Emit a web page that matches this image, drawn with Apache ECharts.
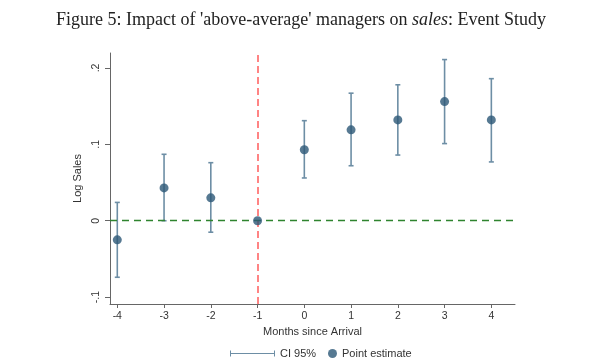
<!DOCTYPE html>
<html>
<head>
<meta charset="utf-8">
<script src="https://cdn.jsdelivr.net/npm/echarts@6/dist/echarts.min.js"></script>
<style>html,body{margin:0;padding:0;background:#fff}#c{width:602px;height:362px}</style>
</head>
<body>
<div id="c"></div>
<script>
var months = [-4, -3, -2, -1, 0, 1, 2, 3, 4];
var pointEstimate = [-0.025, 0.043, 0.030, 0, 0.093, 0.119, 0.132, 0.156, 0.132];
var ciLower = [-0.074, 0.000, -0.015, 0, 0.056, 0.072, 0.086, 0.101, 0.077];
var ciUpper = [0.024, 0.087, 0.076, 0, 0.131, 0.167, 0.178, 0.211, 0.186];
var xTicks = [-4, -3, -2, -1, 0, 1, 2, 3, 4];
var yTicks = [-0.1, 0, 0.1, 0.2];
var yTickLabels = ['-.1', '0', '.1', '.2'];

var ciData = months.map(function (m, i) { return [m, ciLower[i], ciUpper[i]]; });
var ptData = months.map(function (m, i) { return [m, pointEstimate[i]]; });

var chart = echarts.init(document.getElementById('c'));
chart.setOption({
  animation: false,
  backgroundColor: '#ffffff',
  title: {
    text: "Figure 5: Impact of 'above-average' managers on {i|sales}: Event Study",
    left: 'center', top: 6,
    textStyle: {
      fontFamily: 'Liberation Serif', fontSize: 18, fontWeight: 'normal', color: '#222',
      rich: { i: { fontFamily: 'Liberation Serif', fontSize: 18, fontStyle: 'italic', color: '#222' } }
    }
  },
  grid: { left: 110, right: 87, top: 53, bottom: 58 },
  xAxis: {
    type: 'value', min: -4.156, max: 4.506,
    name: 'Months since Arrival', nameLocation: 'middle', nameGap: 21,
    nameTextStyle: { fontFamily: 'Liberation Sans', fontSize: 11, color: '#333' },
    axisLine: { onZero: false, lineStyle: { color: '#666', width: 1 } },
    axisTick: { customValues: xTicks, length: 4, lineStyle: { color: '#666' } },
    axisLabel: { customValues: xTicks, fontFamily: 'Liberation Sans', fontSize: 10.5, color: '#333', margin: 7,
      formatter: function (v) { return String(v); } },
    splitLine: { show: false }
  },
  yAxis: {
    type: 'value', min: -0.109, max: 0.2196,
    name: 'Log Sales', nameLocation: 'middle', nameGap: 24, nameRotate: 90,
    nameTextStyle: { fontFamily: 'Liberation Sans', fontSize: 11, color: '#333' },
    axisLine: { show: true, onZero: false, lineStyle: { color: '#666', width: 1 } },
    axisTick: { show: true, customValues: yTicks, length: 5, lineStyle: { color: '#666' } },
    axisLabel: { customValues: yTicks, rotate: 90, fontFamily: 'Liberation Sans', fontSize: 10.5, color: '#333', margin: 8,
      formatter: function (v) {
        for (var k = 0; k < yTicks.length; k++) { if (Math.abs(v - yTicks[k]) < 1e-9) return yTickLabels[k]; }
        return '';
      } },
    splitLine: { show: false }
  },
  legend: [
    { data: [{ name: 'CI 95%', icon: 'path://M0,0h1v6h-1z M0,2.5h45v1h-45z M44,0h1v6h-1z' }],
      left: 225, top: 343, itemWidth: 45, itemHeight: 6, itemGap: 0,
      textStyle: { fontFamily: 'Liberation Sans', fontSize: 11, color: '#333' } },
    { data: [{ name: 'Point estimate', icon: 'circle' }],
      left: 323, top: 343, itemWidth: 9, itemHeight: 9, itemGap: 0,
      textStyle: { fontFamily: 'Liberation Sans', fontSize: 11, color: '#333' } }
  ],
  series: [
    {
      name: 'CI 95%', type: 'custom', data: ciData, color: '#6d8ea5',
      encode: { x: 0, y: [1, 2] },
      renderItem: function (params, api) {
        var x = api.value(0);
        var lo = api.coord([x, api.value(1)]);
        var hi = api.coord([x, api.value(2)]);
        var cap = 2.5;
        var style = { stroke: '#6d8ea5', lineWidth: 1.6, fill: null };
        if (Math.abs(hi[1] - lo[1]) < 0.5) return null;
        return {
          type: 'group',
          children: [
            { type: 'line', shape: { x1: lo[0], y1: lo[1], x2: hi[0], y2: hi[1] }, style: style },
            { type: 'line', shape: { x1: lo[0] - cap, y1: lo[1], x2: lo[0] + cap, y2: lo[1] }, style: style },
            { type: 'line', shape: { x1: hi[0] - cap, y1: hi[1], x2: hi[0] + cap, y2: hi[1] }, style: style }
          ]
        };
      },
      z: 3
    },
    {
      name: 'Point estimate', type: 'scatter', data: ptData, symbol: 'circle', symbolSize: 9,
      itemStyle: { color: '#2c5777' }, z: 5,
      markLine: {
        silent: true, symbol: 'none', label: { show: false },
        data: [
          { xAxis: -1, lineStyle: { color: '#ff5c5c', type: [7, 4], width: 1.5, opacity: 1 } },
          { yAxis: 0, lineStyle: { color: '#2f842f', type: [7, 5], width: 1.4, opacity: 1 } }
        ]
      }
    }
  ]
});
</script>
</body>
</html>
